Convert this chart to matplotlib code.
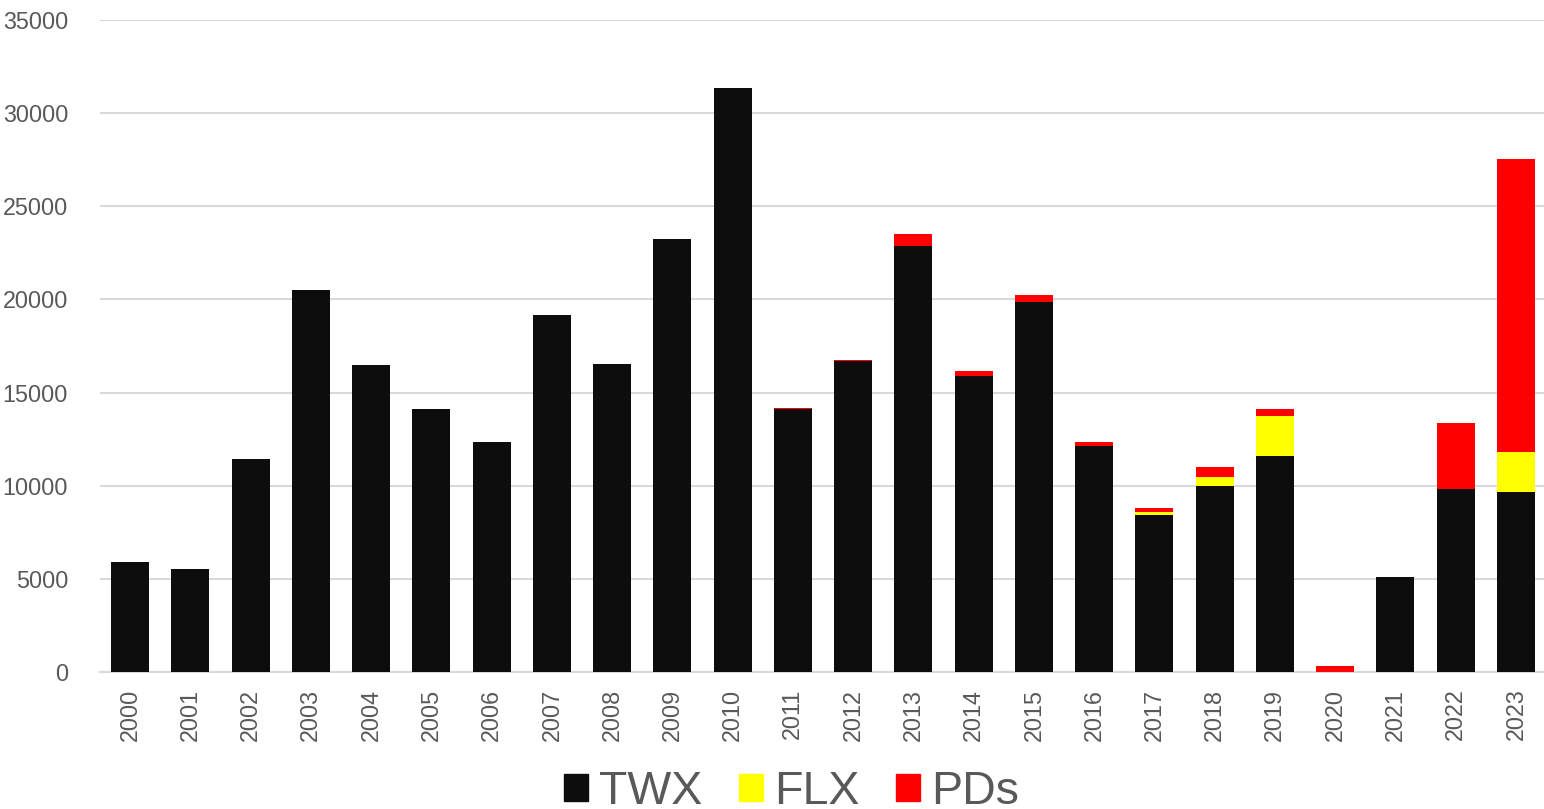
import matplotlib
matplotlib.use("Agg")
import matplotlib.pyplot as plt
from matplotlib.patches import Patch
import numpy as np

years = [str(y) for y in range(2000, 2024)]
twx = [5900, 5530, 11430, 20500, 16480, 14120, 12350, 19160, 16530, 23240,
       31350, 14120, 16700, 22880, 15890, 19880, 12150, 8410, 9980, 11580,
       0, 5100, 9840, 9660]
flx = [0, 0, 0, 0, 0, 0, 0, 0, 0, 0,
       0, 0, 0, 0, 0, 0, 0, 180, 480, 2160,
       0, 0, 0, 2170]
pds = [0, 0, 0, 0, 0, 0, 0, 0, 0, 0,
       0, 60, 60, 630, 270, 340, 200, 200, 540, 380,
       330, 0, 3530, 15690]
yticks = [0, 5000, 10000, 15000, 20000, 25000, 30000, 35000]

plt.rcParams['font.family'] = ['Liberation Sans', 'DejaVu Sans']
fig = plt.figure(figsize=(15.44, 8.09), dpi=100)
ax = fig.add_axes([100/1544, 137/809, 1446/1544, 652/809])

x = np.arange(len(years))
tw = np.array(twx); fl = np.array(flx); pd_ = np.array(pds)
w = 0.63
ax.bar(x, tw, w, color='#0d0d0d', zorder=3)
ax.bar(x, fl, w, bottom=tw, color='#ffff00', zorder=3)
ax.bar(x, pd_, w, bottom=tw + fl, color='#ff0000', zorder=3)

ax.set_xlim(-0.5, len(years) - 0.5)
ax.set_ylim(0, 35000)
ax.set_yticks(yticks)
ax.set_yticklabels([str(v) for v in yticks])
ax.set_xticks(x)
ax.set_xticklabels(years, rotation=90)
ax.tick_params(axis='both', length=0, labelsize=16.8, colors='#595959')
ax.tick_params(axis='y', pad=23)
ax.tick_params(axis='x', pad=12)
ax.yaxis.grid(True, color='#d9d9d9', linewidth=1.5, zorder=0)
ax.set_axisbelow(True)
for s in ['top', 'right', 'left']:
    ax.spines[s].set_visible(False)
ax.spines['bottom'].set_color('#d9d9d9')
ax.spines['bottom'].set_linewidth(1.5)

handles = [Patch(color='#0d0d0d'), Patch(color='#ffff00'), Patch(color='#ff0000')]
leg = fig.legend(handles, ['TWX', 'FLX', 'PDs'], loc='center', ncol=3,
                 bbox_to_anchor=(791.5/1544, 17/809), frameon=False, fontsize=33.5,
                 handlelength=0.52, handleheight=0.52, handletextpad=0.24,
                 columnspacing=0.78, borderpad=0, borderaxespad=0)
for t in leg.get_texts():
    t.set_color('#595959')

fig.savefig('out.png', dpi=100)
